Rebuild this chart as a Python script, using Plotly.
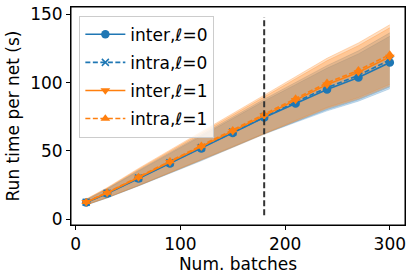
import plotly.graph_objects as go

batches = [10, 30, 60, 90, 120, 150, 180, 210, 240, 270, 300]
inter_l0 = [12.2, 18.8, 29.8, 40.8, 51.7, 63.2, 74.4, 84.7, 94.9, 103.7, 114.7]
intra_l0 = [12.4, 19.0, 30.2, 41.4, 52.4, 63.9, 75.2, 85.8, 96.3, 105.3, 116.6]
inter_l1 = [12.5, 19.2, 30.5, 41.8, 53.0, 64.4, 75.8, 87.2, 98.5, 107.5, 118.8]
intra_l1 = [12.7, 19.5, 31.0, 42.5, 53.8, 65.2, 76.8, 88.3, 99.8, 109.0, 120.5]
std_inter_l0 = [1.8, 3.2, 5.4, 7.2, 8.9, 10.6, 12.1, 13.8, 15.6, 17.3, 19.2]
std_intra_l0 = [1.9, 3.3, 5.6, 7.4, 9.2, 11.0, 12.6, 14.3, 16.1, 17.9, 19.8]
std_inter_l1 = [2.0, 3.5, 6.0, 8.0, 9.8, 11.8, 13.5, 15.5, 17.5, 19.5, 21.3]
std_intra_l1 = [2.1, 3.6, 6.2, 8.3, 10.2, 12.2, 14.0, 16.0, 18.0, 20.0, 21.8]
series_names = ["inter,ℓ=0", "intra,ℓ=0", "inter,ℓ=1", "intra,ℓ=1"]
split_batch = 180
split_span = [3.0, 148.0]

BLUE = "#1f77b4"
ORANGE = "#ff7f0e"
series = [
    (series_names[0], inter_l0, std_inter_l0, BLUE, "solid", "circle", 0.22),
    (series_names[1], intra_l0, std_intra_l0, BLUE, "5px,2.5px", "x-thin", 0.22),
    (series_names[2], inter_l1, std_inter_l1, ORANGE, "solid", "triangle-down", 0.25),
    (series_names[3], intra_l1, std_intra_l1, ORANGE, "5px,2.5px", "triangle-up", 0.25),
]

def rgba(h, a):
    h = h.lstrip("#")
    r, g, b = int(h[0:2], 16), int(h[2:4], 16), int(h[4:6], 16)
    return f"rgba({r},{g},{b},{a})"

fig = go.Figure()

# shaded bands
for name, mean, std, col, dash, sym, alpha in series:
    lo = [m - s for m, s in zip(mean, std)]
    hi = [m + s for m, s in zip(mean, std)]
    fig.add_trace(go.Scatter(x=batches, y=lo, mode="lines",
                             line=dict(width=1, color=rgba(col, alpha)),
                             showlegend=False, hoverinfo="skip"))
    fig.add_trace(go.Scatter(x=batches, y=hi, mode="lines",
                             line=dict(width=1, color=rgba(col, alpha)),
                             fill="tonexty", fillcolor=rgba(col, alpha),
                             showlegend=False, hoverinfo="skip"))

# lines
for i, (name, mean, std, col, dash, sym, alpha) in enumerate(series):
    if sym == "x-thin":
        marker = dict(symbol=sym, size=7, color=col, line=dict(color=col, width=1.5))
    else:
        marker = dict(symbol=sym, size=8.5, color=col, line=dict(width=0))
    fig.add_trace(go.Scatter(x=batches, y=mean, mode="lines+markers", name=name,
                             line=dict(color=col, width=1.6, dash=dash),
                             marker=marker, legendgroup=f"g{i}"))

fig.add_shape(type="line", x0=split_batch, x1=split_batch, y0=split_span[0], y1=split_span[1],
              xref="x", yref="y", line=dict(color="#333333", width=2, dash="6px,3px"))
# axes frame
fig.add_shape(type="rect", x0=0, x1=1, y0=0, y1=1, xref="paper", yref="paper",
              line=dict(color="black", width=1), fillcolor="rgba(0,0,0,0)", layer="above")

FS = 17
axis_common = dict(showline=True, linecolor="black", linewidth=1, mirror=True,
                   ticks="outside", ticklen=4, tickwidth=1, tickcolor="black",
                   showgrid=False, zeroline=False, automargin=False,
                   tickfont=dict(family="DejaVu Sans", size=FS, color="black"))

fig.update_layout(
    width=414, height=279,
    margin=dict(l=71, r=9, t=7, b=54),
    paper_bgcolor="white", plot_bgcolor="white",
    font=dict(family="DejaVu Sans", size=FS, color="black"),
    xaxis=dict(range=[-4.5, 314.5], tickvals=[0, 100, 200, 300],
               title=dict(text="Num. batches", font=dict(size=FS), standoff=1),
               **axis_common),
    yaxis=dict(range=[-4.2, 155.3], tickvals=[0, 50, 100, 150],
               title=dict(text="Run time per net (s)", font=dict(size=FS), standoff=6),
               **axis_common),
    legend=dict(x=0.025, y=0.96, xanchor="left", yanchor="top",
                bgcolor="rgba(255,255,255,0.8)", bordercolor="#cccccc", borderwidth=1,
                font=dict(family="DejaVu Sans", size=FS), tracegroupgap=3,
                itemwidth=40),
)

fig.write_html("out.html", config={"displayModeBar": False},
               post_script="document.body.style.margin='0';document.body.style.overflow='hidden';")
